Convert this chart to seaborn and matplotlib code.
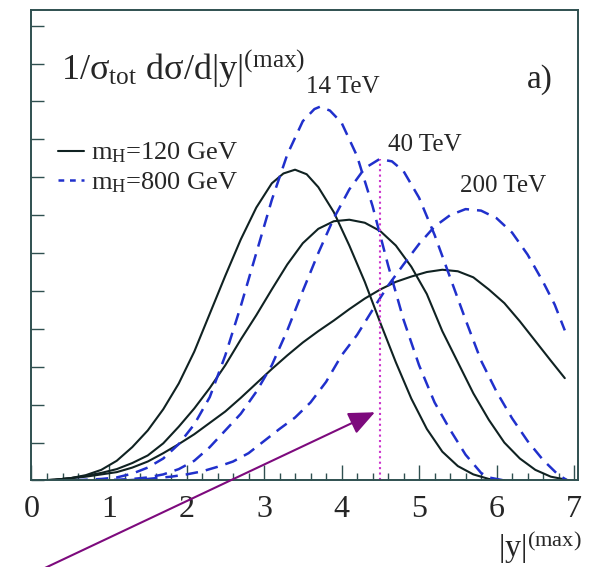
import numpy as np
import pandas as pd
import matplotlib.pyplot as plt
import seaborn as sns
from matplotlib.lines import Line2D

# |y|(max) distributions (normalised, arbitrary units)
# m_H = 120 GeV
x_b14 = [0.1, 0.3, 0.5, 0.7, 0.9, 1.1, 1.3, 1.5, 1.7, 1.9, 2.1, 2.3, 2.5, 2.7, 2.9, 3.1, 3.25, 3.4,
         3.55, 3.7, 3.9, 4.1, 4.3, 4.5, 4.7, 4.9, 5.1, 5.3, 5.5, 5.7, 5.9, 6.1]
v_b14 = [0.000, 0.001, 0.003, 0.007, 0.014, 0.026, 0.044, 0.066, 0.094, 0.128, 0.170, 0.220, 0.270,
         0.318, 0.360, 0.392, 0.405, 0.410, 0.404, 0.387, 0.354, 0.310, 0.262, 0.208, 0.156, 0.108,
         0.068, 0.038, 0.019, 0.008, 0.002, 0.000]

x_b40 = [0.1, 0.3, 0.5, 0.7, 0.9, 1.1, 1.3, 1.5, 1.7, 1.9, 2.1, 2.3, 2.5, 2.7, 2.9, 3.1, 3.3, 3.5,
         3.7, 3.9, 4.1, 4.3, 4.5, 4.7, 4.9, 5.1, 5.3, 5.5, 5.7, 5.9, 6.1, 6.3, 6.5, 6.7, 6.95]
v_b40 = [0.000, 0.001, 0.003, 0.006, 0.010, 0.015, 0.023, 0.033, 0.049, 0.071, 0.095, 0.122, 0.152,
         0.186, 0.218, 0.252, 0.285, 0.313, 0.332, 0.342, 0.344, 0.340, 0.329, 0.310, 0.282, 0.246,
         0.197, 0.156, 0.115, 0.080, 0.050, 0.029, 0.014, 0.005, 0.000]

x_b200 = [0.1, 0.3, 0.5, 0.7, 0.9, 1.1, 1.3, 1.5, 1.7, 1.9, 2.1, 2.3, 2.5, 2.7, 2.9, 3.1, 3.3, 3.5,
          3.7, 3.9, 4.1, 4.3, 4.5, 4.7, 4.9, 5.1, 5.3, 5.5, 5.7, 5.9, 6.1, 6.3, 6.5, 6.7, 6.88]
v_b200 = [0.000, 0.001, 0.003, 0.005, 0.008, 0.011, 0.017, 0.025, 0.036, 0.048, 0.061, 0.076, 0.091,
          0.109, 0.128, 0.147, 0.165, 0.182, 0.197, 0.211, 0.226, 0.240, 0.252, 0.262, 0.269, 0.275,
          0.278, 0.276, 0.268, 0.252, 0.234, 0.210, 0.184, 0.158, 0.135]

# m_H = 800 GeV
x_d14 = [0.3, 0.6, 0.9, 1.1, 1.3, 1.5, 1.7, 1.9, 2.1, 2.3, 2.5, 2.7, 2.9, 3.1, 3.3, 3.5, 3.65, 3.72,
         3.85, 4.0, 4.2, 4.4, 4.6, 4.8, 5.0, 5.2, 5.4, 5.6, 5.8, 5.9, 6.1]
v_d14 = [0.000, 0.0005, 0.002, 0.004, 0.009, 0.017, 0.029, 0.048, 0.074, 0.110, 0.165, 0.230, 0.300,
         0.370, 0.430, 0.474, 0.490, 0.493, 0.488, 0.472, 0.428, 0.362, 0.284, 0.212, 0.152, 0.103,
         0.067, 0.034, 0.010, 0.004, 0.000]

x_d40 = [0.8, 1.1, 1.3, 1.5, 1.7, 1.9, 2.1, 2.3, 2.5, 2.7, 2.9, 3.1, 3.3, 3.5, 3.7, 3.9, 4.1, 4.3,
         4.49, 4.65, 4.8, 5.0, 5.2, 5.4, 5.6, 5.8, 6.0, 6.2, 6.4, 6.6, 6.8, 6.9]
v_d40 = [0.000, 0.001, 0.002, 0.004, 0.008, 0.015, 0.026, 0.044, 0.066, 0.088, 0.117, 0.152, 0.198,
         0.250, 0.300, 0.346, 0.384, 0.412, 0.424, 0.421, 0.408, 0.373, 0.324, 0.268, 0.212, 0.158,
         0.117, 0.082, 0.052, 0.027, 0.007, 0.001]

x_d200 = [1.2, 1.5, 1.8, 2.0, 2.2, 2.4, 2.6, 2.8, 3.0, 3.2, 3.4, 3.6, 3.8, 4.0, 4.2, 4.4, 4.6, 4.8,
          5.0, 5.2, 5.4, 5.6, 5.8, 6.0, 6.2, 6.4, 6.6, 6.75, 6.88]
v_d200 = [0.000, 0.002, 0.005, 0.008, 0.012, 0.018, 0.025, 0.036, 0.052, 0.068, 0.083, 0.103, 0.130,
          0.165, 0.192, 0.225, 0.257, 0.285, 0.312, 0.335, 0.350, 0.358, 0.356, 0.346, 0.327, 0.298,
          0.262, 0.232, 0.198]

energies = ['14 TeV', '40 TeV', '200 TeV']
masses = ['120', '800']
ycut = 4.5

curves = [
    ('120', '14 TeV', x_b14, v_b14), ('120', '40 TeV', x_b40, v_b40), ('120', '200 TeV', x_b200, v_b200),
    ('800', '14 TeV', x_d14, v_d14), ('800', '40 TeV', x_d40, v_d40), ('800', '200 TeV', x_d200, v_d200),
]
rows = []
for m, e, xs, vs in curves:
    for a, b in zip(xs, vs):
        rows.append((m, e, a, b))
df = pd.DataFrame(rows, columns=['mass', 'energy', 'ymax', 'dsig'])

sns.set_style('ticks')
plt.rcParams['font.family'] = ['Liberation Serif', 'DejaVu Serif']
plt.rcParams['mathtext.fontset'] = 'custom'
plt.rcParams['mathtext.rm'] = 'Liberation Serif'
plt.rcParams['mathtext.it'] = 'Liberation Serif'
plt.rcParams['mathtext.bf'] = 'Liberation Serif:bold'

black = '#102222'
blue = '#2030cc'
frame = '#2f5050'

fig = plt.figure(figsize=(5.92, 5.67), dpi=100)
ax = fig.add_axes([0.0532, 0.1526, 0.9231, 0.8298])

sns.lineplot(data=df[df['mass'] == '120'], x='ymax', y='dsig', units='energy',
             estimator=None, sort=False, color=black, lw=1.5, legend=False, ax=ax)
sns.lineplot(data=df[df['mass'] == '800'], x='ymax', y='dsig', units='energy',
             estimator=None, sort=False, color=blue, lw=1.8, linestyle=(0, (5.0, 3.2)),
             legend=False, ax=ax)

# cut at |y| = 4.5
ax.vlines(ycut, 0, np.interp(ycut, x_d40, v_d40), color='#cc33cc', lw=1.5,
          linestyles=(0, (1, 1.6)))

ax.set_xlim(0, 7.05)
ax.set_ylim(0, 0.6207)
ax.set_xticks(range(0, 8))
ax.set_xticks(np.arange(0, 7.01, 0.2), minor=True)
ax.set_yticks(np.arange(0, 0.61, 0.05))
ax.set_yticklabels([])
ax.set_xlabel('')
ax.set_ylabel('')
ax.tick_params(axis='x', which='major', direction='in', length=11, width=1, color=frame,
               labelsize=23, pad=10.5, top=False)
ax.tick_params(axis='x', which='minor', direction='in', length=5, width=1, color=frame, top=False)
ax.tick_params(axis='y', which='major', direction='in', length=9.5, width=1, color=frame, right=False)
for s in ax.spines.values():
    s.set_color(frame)
    s.set_linewidth(1.4)

handles = [Line2D([], [], color=black, lw=1.5),
           Line2D([], [], color=blue, lw=1.8, linestyle=(0, (2.3, 2.3)))]
labels = [r'm$_{\rm H}$=' + m + ' GeV' for m in masses]
ax.legend(handles, labels, loc='upper left', bbox_to_anchor=(0.0485, 0.722), frameon=False,
          fontsize=19, handlelength=1.0, handletextpad=0.25, labelspacing=0.2,
          borderpad=0, borderaxespad=0)

fig.text(61 / 592, 1 - 80 / 567, r'$1/\sigma_{tot}\ d\sigma/d|y|^{(max)}$', fontsize=26,
         ha='left', va='baseline')
ax.text(0.930, 0.851, 'a)', transform=ax.transAxes, fontsize=24, ha='center', va='center')

for e, (tx, ty) in zip(energies, [(4.02, 0.519), (5.07, 0.443), (6.08, 0.389)]):
    ax.text(tx, ty, e, fontsize=18, ha='center', va='center')

fig.text(582 / 592, 1 - 557 / 567, r'$|y|^{(max)}$', fontsize=23, ha='right', va='baseline')

ax.annotate('', xy=(ycut - 0.07, 0.09), xycoords='data',
            xytext=(35 / 592, -0.01), textcoords='figure fraction',
            arrowprops=dict(arrowstyle='-|>,head_length=0.8,head_width=0.35',
                            color='#7d0a7d', lw=1.5, mutation_scale=20, shrinkA=0, shrinkB=0),
            annotation_clip=False)

fig.savefig('out.png', dpi=100)
